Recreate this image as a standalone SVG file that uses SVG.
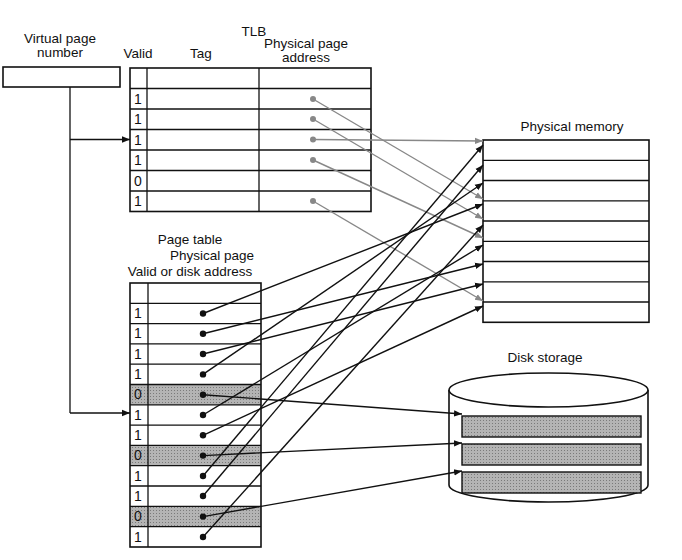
<svg xmlns="http://www.w3.org/2000/svg" width="682" height="560" viewBox="0 0 682 560">
<defs>
<marker id="ab" viewBox="0 0 10 10" refX="10" refY="5" markerWidth="8" markerHeight="8" markerUnits="userSpaceOnUse" orient="auto"><path d="M0,1 L10,5 L0,9 z" fill="#111"/></marker>
<marker id="ag" viewBox="0 0 10 10" refX="10" refY="5" markerWidth="8" markerHeight="8" markerUnits="userSpaceOnUse" orient="auto"><path d="M0,1 L10,5 L0,9 z" fill="#888"/></marker>
<pattern id="dots" width="3" height="3" patternUnits="userSpaceOnUse"><rect width="3" height="3" fill="#b4b4b4"/><rect width="1" height="1" fill="#7a7a7a"/></pattern>
</defs>
<style>
text{font-family:"Liberation Sans",Arial,sans-serif;font-size:13.5px;fill:#111}
.c{text-anchor:middle}
.v{font-size:14px}
.box{fill:none;stroke:#111;stroke-width:1.6}
.ln{stroke:#111;stroke-width:1.3}
.b{stroke:#111;stroke-width:1.4;fill:none;marker-end:url(#ab)}
.g{stroke:#888;stroke-width:1.4;fill:none;marker-end:url(#ag)}
.sh{fill:url(#dots)}
</style>
<rect width="682" height="560" fill="#fff"/>
<g id="labels">
<text class="c" x="60" y="43">Virtual page</text><text class="c" x="60" y="57">number</text>
<text class="c" x="254" y="36">TLB</text>
<text class="c" x="138" y="58">Valid</text><text class="c" x="201" y="58">Tag</text>
<text class="c" x="306" y="48">Physical page</text><text class="c" x="306" y="62">address</text>
<text class="c" x="572" y="131">Physical memory</text>
<text class="c" x="190" y="244">Page table</text>
<text class="c" x="212" y="260">Physical page</text>
<text class="c" x="190" y="276">Valid or disk address</text>
<text class="c" x="545" y="362">Disk storage</text>
</g>
<g id="vpn"><rect class="box" x="3" y="67" width="117" height="20"/></g>
<g id="tlb">
<rect class="box" x="130" y="68" width="241" height="143.5"/>
<line class="ln" x1="147" y1="68" x2="147" y2="211.5"/>
<line class="ln" x1="259" y1="68" x2="259" y2="211.5"/>
<g class="ln">
<line x1="130" y1="88.5" x2="371" y2="88.5"/><line x1="130" y1="109" x2="371" y2="109"/><line x1="130" y1="129.5" x2="371" y2="129.5"/>
<line x1="130" y1="150" x2="371" y2="150"/><line x1="130" y1="170.5" x2="371" y2="170.5"/><line x1="130" y1="191" x2="371" y2="191"/>
</g>
<text class="v" x="134" y="104">1</text><text class="v" x="134" y="124">1</text><text class="v" x="134" y="145">1</text>
<text class="v" x="134" y="165">1</text><text class="v" x="134" y="186">0</text><text class="v" x="134" y="206">1</text>
<g fill="#888"><circle cx="313" cy="99" r="3"/><circle cx="313" cy="119" r="3"/><circle cx="313" cy="139.5" r="3"/><circle cx="313" cy="160" r="3"/><circle cx="313" cy="201" r="3"/></g>
</g>
<g id="pagetable">
<rect class="sh" x="130" y="384.5" width="131" height="20.3"/>
<rect class="sh" x="130" y="445.4" width="131" height="20.3"/>
<rect class="sh" x="130" y="506.3" width="131" height="20.3"/>
<rect class="box" x="130" y="283" width="131" height="264"/>
<line class="ln" x1="148" y1="283" x2="148" y2="547"/>
<g class="ln">
<line x1="130" y1="303.3" x2="261" y2="303.3"/><line x1="130" y1="323.6" x2="261" y2="323.6"/><line x1="130" y1="343.9" x2="261" y2="343.9"/>
<line x1="130" y1="364.2" x2="261" y2="364.2"/><line x1="130" y1="384.5" x2="261" y2="384.5"/><line x1="130" y1="404.8" x2="261" y2="404.8"/>
<line x1="130" y1="425.1" x2="261" y2="425.1"/><line x1="130" y1="445.4" x2="261" y2="445.4"/><line x1="130" y1="465.7" x2="261" y2="465.7"/>
<line x1="130" y1="486" x2="261" y2="486"/><line x1="130" y1="506.3" x2="261" y2="506.3"/><line x1="130" y1="526.6" x2="261" y2="526.6"/>
</g>
<text class="v" x="134" y="318">1</text><text class="v" x="134" y="338">1</text><text class="v" x="134" y="359">1</text>
<text class="v" x="134" y="379">1</text><text class="v" x="134" y="399" fill="#555">0</text><text class="v" x="134" y="420">1</text>
<text class="v" x="134" y="440">1</text><text class="v" x="134" y="460" fill="#555">0</text><text class="v" x="134" y="481">1</text>
<text class="v" x="134" y="501">1</text><text class="v" x="134" y="521" fill="#555">0</text><text class="v" x="134" y="542">1</text>
<g fill="#111"><circle cx="203" cy="313.5" r="3.2"/><circle cx="203" cy="333.8" r="3.2"/><circle cx="203" cy="354" r="3.2"/><circle cx="203" cy="374.4" r="3.2"/><circle cx="203" cy="394.7" r="3.2"/><circle cx="203" cy="415" r="3.2"/><circle cx="203" cy="435.3" r="3.2"/><circle cx="203" cy="455.6" r="3.2"/><circle cx="203" cy="476" r="3.2"/><circle cx="203" cy="496" r="3.2"/><circle cx="203" cy="516.6" r="3.2"/><circle cx="203" cy="537" r="3.2"/></g>
</g>
<g id="physmem">
<rect class="box" x="483" y="140" width="166" height="182.3"/>
<g class="ln">
<line x1="483" y1="160.3" x2="649" y2="160.3"/><line x1="483" y1="180.5" x2="649" y2="180.5"/><line x1="483" y1="200.8" x2="649" y2="200.8"/>
<line x1="483" y1="221" x2="649" y2="221"/><line x1="483" y1="241.3" x2="649" y2="241.3"/><line x1="483" y1="261.5" x2="649" y2="261.5"/>
<line x1="483" y1="281.8" x2="649" y2="281.8"/><line x1="483" y1="302" x2="649" y2="302"/>
</g>
</g>
<g id="disk">
<path d="M449,390 L449,485 A99.5,17 0 0 0 648,485 L648,390" fill="#fff" stroke="#111" stroke-width="1.6"/>
<ellipse cx="548.5" cy="390" rx="99.5" ry="17" fill="#fff" stroke="#111" stroke-width="1.6"/>
<rect class="sh" x="462" y="416" width="179" height="21" stroke="#111" stroke-width="1.4"/>
<rect class="sh" x="462" y="444" width="179" height="21" stroke="#111" stroke-width="1.4"/>
<rect class="sh" x="462" y="472" width="179" height="21" stroke="#111" stroke-width="1.4"/>
</g>
<g id="connectors">
<polyline class="ln" fill="none" points="70,87 70,413"/>
<line class="b" x1="70" y1="139.5" x2="130" y2="139.5"/>
<line class="b" x1="70" y1="413" x2="130" y2="413"/>
<line class="g" x1="313" y1="99" x2="483" y2="199"/>
<line class="g" x1="313" y1="119" x2="483" y2="219"/>
<line class="g" x1="313" y1="139.5" x2="483" y2="141"/>
<line class="g" x1="313" y1="160" x2="483" y2="238"/>
<line class="g" x1="313" y1="201" x2="483" y2="301"/>
<line class="b" x1="203" y1="313.5" x2="483" y2="204"/>
<line class="b" x1="203" y1="333.8" x2="483" y2="264"/>
<line class="b" x1="203" y1="354" x2="483" y2="284"/>
<line class="b" x1="203" y1="374.4" x2="483" y2="183"/>
<line class="b" x1="203" y1="394.7" x2="462" y2="414"/>
<line class="b" x1="203" y1="415" x2="483" y2="245"/>
<line class="b" x1="203" y1="435.3" x2="483" y2="306"/>
<line class="b" x1="203" y1="455.6" x2="462" y2="443"/>
<line class="b" x1="203" y1="476" x2="483" y2="145"/>
<line class="b" x1="203" y1="496" x2="483" y2="165"/>
<line class="b" x1="203" y1="516.6" x2="462" y2="471"/>
<line class="b" x1="203" y1="537" x2="483" y2="225"/>
</g>
</svg>
